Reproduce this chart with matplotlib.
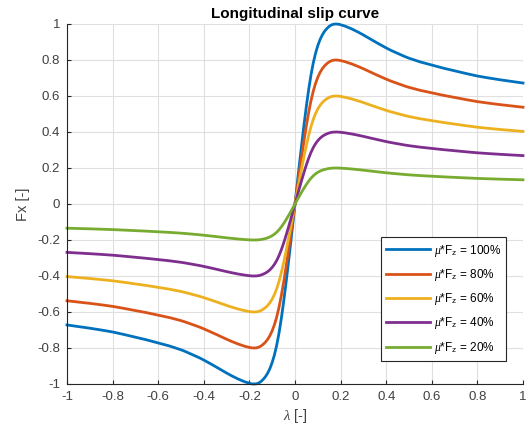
import matplotlib
matplotlib.use("Agg")
import matplotlib.pyplot as plt
from matplotlib.ticker import FuncFormatter, MultipleLocator

# Slip ratio samples and normalised longitudinal force (full-grip curve)
slip = [-1.0, -0.95, -0.9, -0.85, -0.8, -0.75, -0.7, -0.65, -0.6, -0.55, -0.5, -0.48,
        -0.45, -0.42, -0.4, -0.38, -0.36, -0.33, -0.3, -0.28, -0.25, -0.22, -0.2, -0.19,
        -0.18, -0.17, -0.16, -0.15, -0.14, -0.13, -0.12, -0.11, -0.1, -0.09, -0.08, -0.07,
        -0.06, -0.05, -0.04, -0.03, -0.02, -0.01,
        0.0,
        0.01, 0.02, 0.03, 0.04, 0.05, 0.06, 0.07, 0.08, 0.09, 0.1, 0.11, 0.12,
        0.13, 0.14, 0.15, 0.16, 0.17, 0.18, 0.19, 0.2, 0.22, 0.25, 0.28, 0.3,
        0.33, 0.36, 0.38, 0.4, 0.42, 0.45, 0.48, 0.5, 0.55, 0.6, 0.65, 0.7,
        0.75, 0.8, 0.85, 0.9, 0.95, 1.0]
fx_full = [-0.672, -0.681, -0.69, -0.7, -0.711, -0.725, -0.74, -0.755, -0.772, -0.789, -0.81, -0.82,
           -0.837, -0.854, -0.867, -0.881, -0.895, -0.917, -0.939, -0.953, -0.972, -0.988, -0.996, -0.999,
           -1.0, -0.999, -0.995, -0.987, -0.975, -0.96, -0.94, -0.914, -0.88, -0.837, -0.783, -0.716,
           -0.636, -0.545, -0.445, -0.338, -0.228, -0.115,
           0.0,
           0.115, 0.228, 0.338, 0.445, 0.545, 0.636, 0.716, 0.783, 0.837, 0.88, 0.914, 0.94,
           0.96, 0.975, 0.987, 0.995, 0.999, 1.0, 0.999, 0.996, 0.988, 0.972, 0.953, 0.939,
           0.917, 0.895, 0.881, 0.867, 0.854, 0.837, 0.82, 0.81, 0.789, 0.772, 0.755, 0.74,
           0.725, 0.711, 0.7, 0.69, 0.681, 0.672]

# Available friction as share of mu*Fz
grip_pct = [100, 80, 60, 40, 20]
line_colors = ["#0072BD", "#D95319", "#EDB120", "#7E2F8E", "#77AC30"]

plt.rcParams["font.family"] = ["Liberation Sans", "DejaVu Sans"]
plt.rcParams["mathtext.fontset"] = "custom"
plt.rcParams["mathtext.it"] = "Liberation Serif:italic"
plt.rcParams["mathtext.rm"] = "Liberation Sans"

fig = plt.figure(figsize=(5.29, 4.37), dpi=100)
ax = fig.add_axes([67 / 529, 53 / 437, 456 / 529, 360 / 437])

for pct, col in zip(grip_pct, line_colors):
    fx = [v * pct / 100 for v in fx_full]
    ax.plot(slip, fx, color=col, lw=2, solid_joinstyle="round", clip_on=False,
            label=r"$\mathit{\mu}$*F$_\mathrm{z}$ = %d%%" % pct)

ax.set_xlim(-1, 1)
ax.set_ylim(-1, 1)
ax.xaxis.set_major_locator(MultipleLocator(0.2))
ax.yaxis.set_major_locator(MultipleLocator(0.2))
fmt = FuncFormatter(lambda v, _: "%g" % (round(v, 2) + 0.0))
ax.xaxis.set_major_formatter(fmt)
ax.yaxis.set_major_formatter(fmt)

ax.grid(True, color="#dfdfdf", lw=0.8)
ax.set_axisbelow(True)
for side in ("top", "right"):
    ax.spines[side].set_visible(False)
for side in ("left", "bottom"):
    ax.spines[side].set_color("#262626")
    ax.spines[side].set_linewidth(0.8)
ax.tick_params(direction="in", length=3, width=0.8, colors="#262626",
               labelsize=9.5, labelcolor="#404040", pad=5)

ax.set_title("Longitudinal slip curve", fontsize=11, fontweight="bold", pad=4)
ax.set_xlabel(r"$\lambda$ [-]", fontsize=10.5, color="#404040", labelpad=3)
ax.set_ylabel("Fx [-]", fontsize=10.5, color="#404040", labelpad=5)

leg = ax.legend(loc="lower right", bbox_to_anchor=(0.963, 0.064), borderaxespad=0,
                fontsize=8.5, handlelength=3.7, labelspacing=0.7, fancybox=False,
                framealpha=1, edgecolor="#262626", borderpad=0.45, handletextpad=0.3)
leg.get_frame().set_linewidth(0.8)

fig.savefig("out.png", dpi=100)
